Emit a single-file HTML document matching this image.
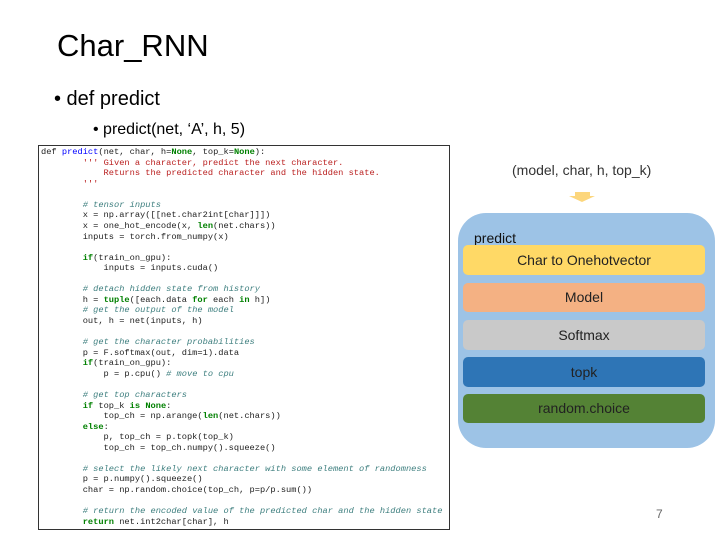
<!DOCTYPE html>
<html><head><meta charset="utf-8"><style>
body{margin:0;width:720px;height:540px;background:#fff;position:relative;overflow:hidden;font-family:"Liberation Sans",sans-serif;}
.a{position:absolute;}
pre{margin:0;font-family:"Liberation Mono",monospace;font-size:8.7px;line-height:10.57px;color:#222;}
.c{color:#408080;font-style:italic}.s{color:#ba2121}.k{color:#008000;font-weight:bold}.f{color:#0000ff}.n{color:#aa22ff}
.bar{position:absolute;left:5px;width:242px;border-radius:5px;text-align:center;font-size:14px;color:#222;}
</style></head><body>
<div class="a" style="left:57px;top:28px;font-size:31px;color:#000;">Char_RNN</div>
<div class="a" style="left:54px;top:88px;font-size:20px;">• def predict</div>
<div class="a" style="left:93px;top:121px;font-size:16px;">• predict(net, ‘A’, h, 5)</div>
<div class="a" style="left:38px;top:145px;width:410px;height:383px;border:1px solid #333;background:#fff;">
<pre style="position:absolute;left:2px;top:1px;">def <span class="f">predict</span>(net, char, h=<span class="k">None</span>, top_k=<span class="k">None</span>):
        <span class="s">''' Given a character, predict the next character.
            Returns the predicted character and the hidden state.
        '''</span>

        <span class="c"># tensor inputs</span>
        x = np.array([[net.char2int[char]]])
        x = one_hot_encode(x, <span class="k">len</span>(net.chars))
        inputs = torch.from_numpy(x)

        <span class="k">if</span>(train_on_gpu):
            inputs = inputs.cuda()

        <span class="c"># detach hidden state from history</span>
        h = <span class="k">tuple</span>([each.data <span class="k">for</span> each <span class="k">in</span> h])
        <span class="c"># get the output of the model</span>
        out, h = net(inputs, h)

        <span class="c"># get the character probabilities</span>
        p = F.softmax(out, dim=1).data
        <span class="k">if</span>(train_on_gpu):
            p = p.cpu() <span class="c"># move to cpu</span>

        <span class="c"># get top characters</span>
        <span class="k">if</span> top_k <span class="k">is</span> <span class="k">None</span>:
            top_ch = np.arange(<span class="k">len</span>(net.chars))
        <span class="k">else</span>:
            p, top_ch = p.topk(top_k)
            top_ch = top_ch.numpy().squeeze()

        <span class="c"># select the likely next character with some element of randomness</span>
        p = p.numpy().squeeze()
        char = np.random.choice(top_ch, p=p/p.sum())

        <span class="c"># return the encoded value of the predicted char and the hidden state</span>
        <span class="k">return</span> net.int2char[char], h</pre></div>
<div class="a" style="left:512px;top:162px;font-size:14px;color:#333;">(model, char, h, top_k)</div>
<div class="a" style="left:575px;top:192px;width:15px;height:4px;background:#fcd67c;"></div>
<div class="a" style="left:569px;top:196px;width:0;height:0;border-left:13px solid transparent;border-right:13px solid transparent;border-top:6px solid #fcd67c;"></div>
<div class="a" style="left:458px;top:213px;width:257px;height:235px;background:#9dc3e6;border-radius:28px;">
<div class="a" style="left:16px;top:17px;font-size:14px;color:#111;">predict</div>
<div class="bar" style="top:32px;height:30px;line-height:30px;background:#ffd966;">Char to Onehotvector</div>
<div class="bar" style="top:70px;height:29px;line-height:29px;background:#f4b183;">Model</div>
<div class="bar" style="top:107px;height:30px;line-height:30px;background:#c9c9c9;">Softmax</div>
<div class="bar" style="top:144px;height:30px;line-height:30px;background:#2e75b6;">topk</div>
<div class="bar" style="top:181px;height:29px;line-height:29px;background:#548235;">random.choice</div>
</div>
<div class="a" style="left:656px;top:507px;font-size:12px;color:#666;">7</div>
</body></html>
